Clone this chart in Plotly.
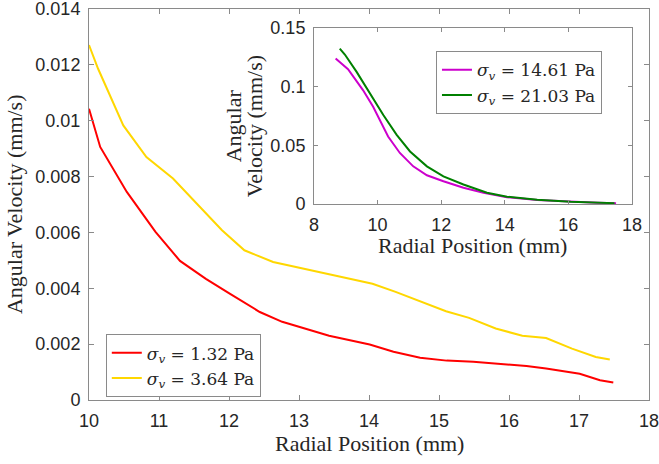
import plotly.graph_objects as go

# Main chart data
red_x = [10.0, 10.16, 10.54, 10.95, 11.3, 11.67, 12.01, 12.44, 12.76, 13.43, 14.01, 14.35, 14.73, 15.11, 15.49, 16.01, 16.25, 16.53, 17.01, 17.3, 17.49]
red_y = [0.01043, 0.00906, 0.00745, 0.00602, 0.00498, 0.00434, 0.00381, 0.00315, 0.0028, 0.0023, 0.00199, 0.00173, 0.00151, 0.00141, 0.00137, 0.00127, 0.00122, 0.00113, 0.00094, 0.00071, 0.00063]

yellow_x = [10.0, 10.13, 10.49, 10.82, 11.2, 11.59, 11.9, 12.22, 12.63, 13.43, 13.71, 14.05, 14.38, 14.76, 15.1, 15.43, 15.81, 16.19, 16.53, 16.9, 17.24, 17.44]
yellow_y = [0.01271, 0.01186, 0.00983, 0.0087, 0.00793, 0.00691, 0.00608, 0.00536, 0.00494, 0.0045, 0.00434, 0.00416, 0.00387, 0.00351, 0.00318, 0.00294, 0.00256, 0.0023, 0.00222, 0.00184, 0.00154, 0.00145]

# Inset data
magenta_x = [8.68, 9.07, 9.54, 9.86, 10.33, 10.7, 11.12, 11.55, 12.07, 12.7, 13.33, 14.07, 15.02, 15.86, 16.91, 17.5]
magenta_y = [0.1241, 0.115, 0.0972, 0.083, 0.0576, 0.0436, 0.0322, 0.0246, 0.0195, 0.0139, 0.0097, 0.0059, 0.0034, 0.0023, 0.0012, 0.0008]

green_x = [8.81, 8.97, 9.34, 9.76, 10.18, 10.6, 11.02, 11.55, 12.07, 12.7, 13.44, 14.07, 15.02, 16.07, 17.12, 17.45]
green_y = [0.1326, 0.1275, 0.1127, 0.0944, 0.076, 0.0591, 0.0449, 0.0322, 0.0237, 0.0167, 0.0097, 0.0063, 0.0037, 0.002, 0.0012, 0.0008]

names_main = ["<i>σ<sub>v</sub></i> = 1.32 Pa", "<i>σ<sub>v</sub></i> = 3.64 Pa"]
names_inset = ["<i>σ<sub>v</sub></i> = 14.61 Pa", "<i>σ<sub>v</sub></i> = 21.03 Pa"]

main_xticks = [10, 11, 12, 13, 14, 15, 16, 17, 18]
main_yticks = [0, 0.002, 0.004, 0.006, 0.008, 0.01, 0.012, 0.014]
main_yticklabels = ["0", "0.002", "0.004", "0.006", "0.008", "0.01", "0.012", "0.014"]
inset_xticks = [8, 10, 12, 14, 16, 18]
inset_yticks = [0, 0.05, 0.1, 0.15]
inset_yticklabels = ["0", "0.05", "0.1", "0.15"]

AXC = "#8a8a8a"
TXC = "#262626"
SERIF = "Liberation Serif, Times New Roman, serif"
LEGSERIF = "DejaVu Serif, serif"
SANS = "Liberation Sans, Arial, sans-serif"

fig = go.Figure()
fig.add_trace(go.Scatter(x=red_x, y=red_y, mode="lines", name=names_main[0],
                         line=dict(color="#ff0000", width=2), xaxis="x", yaxis="y", legend="legend"))
fig.add_trace(go.Scatter(x=yellow_x, y=yellow_y, mode="lines", name=names_main[1],
                         line=dict(color="#ffd700", width=2), xaxis="x", yaxis="y", legend="legend"))
fig.add_trace(go.Scatter(x=magenta_x, y=magenta_y, mode="lines", name=names_inset[0],
                         line=dict(color="#cc00cc", width=2), xaxis="x2", yaxis="y2", legend="legend2"))
fig.add_trace(go.Scatter(x=green_x, y=green_y, mode="lines", name=names_inset[1],
                         line=dict(color="#008000", width=2), xaxis="x2", yaxis="y2", legend="legend2"))

axis_common = dict(showline=True, linecolor=AXC, linewidth=1, mirror="ticks", ticks="inside",
                   tickcolor=AXC, showgrid=False, zeroline=False, automargin=False,
                   ticklabeloverflow="allow",
                   tickfont=dict(family=SANS, size=18, color=TXC))

LEGFONT = dict(family=LEGSERIF, size=17, color=TXC)
TITLEFONT = dict(family=SERIF, size=22, color=TXC)

fig.update_layout(
    width=659, height=464,
    margin=dict(l=89, r=10, t=9, b=64, autoexpand=False),
    paper_bgcolor="white", plot_bgcolor="white",
    showlegend=True,
    xaxis=dict(domain=[0, 1], range=[10, 18], tickvals=main_xticks, ticklen=5,
               ticklabelstandoff=4, anchor="y", **axis_common),
    yaxis=dict(domain=[0, 1], range=[0, 0.014], tickvals=main_yticks, ticktext=main_yticklabels,
               ticklen=5, ticklabelstandoff=4, anchor="x", **axis_common),
    xaxis2=dict(domain=[0.4018, 0.9696], range=[8, 18], tickvals=inset_xticks, ticklen=4,
                ticklabelstandoff=4, anchor="y2", **axis_common),
    yaxis2=dict(domain=[0.501, 0.951], range=[0, 0.15], tickvals=inset_yticks, ticktext=inset_yticklabels,
                ticklen=4, ticklabelstandoff=4, anchor="x2", **axis_common),
    legend=dict(x=0.030, y=0.168, xanchor="left", yanchor="top",
                bgcolor="white", bordercolor=AXC, borderwidth=1,
                font=LEGFONT, tracegroupgap=0, itemwidth=30),
    legend2=dict(x=0.6196, y=0.892, xanchor="left", yanchor="top",
                 bgcolor="white", bordercolor=AXC, borderwidth=1,
                 font=LEGFONT, tracegroupgap=0, itemwidth=30),
    annotations=[
        dict(text="Radial Position (mm)", xref="paper", yref="paper", x=0.5, y=-0.111,
             xanchor="center", yanchor="middle", showarrow=False, font=TITLEFONT),
        dict(text="Angular Velocity (mm/s)", xref="paper", yref="paper", x=-0.134, y=0.501,
             xanchor="center", yanchor="middle", showarrow=False, textangle=-90, font=TITLEFONT),
        dict(text="Radial Position (mm)", xref="paper", yref="paper", x=0.685, y=0.395,
             xanchor="center", yanchor="middle", showarrow=False, font=TITLEFONT),
        dict(text="Angular", xref="paper", yref="paper", x=(233 - 89) / 560, y=0.70,
             xanchor="center", yanchor="middle", showarrow=False, textangle=-90, font=TITLEFONT),
        dict(text="Velocity (mm/s)", xref="paper", yref="paper", x=(254 - 89) / 560, y=0.70,
             xanchor="center", yanchor="middle", showarrow=False, textangle=-90, font=TITLEFONT),
    ],
)

fig.write_html("out.html", config={"displayModeBar": False},
               post_script="document.body.style.margin='0px';")
